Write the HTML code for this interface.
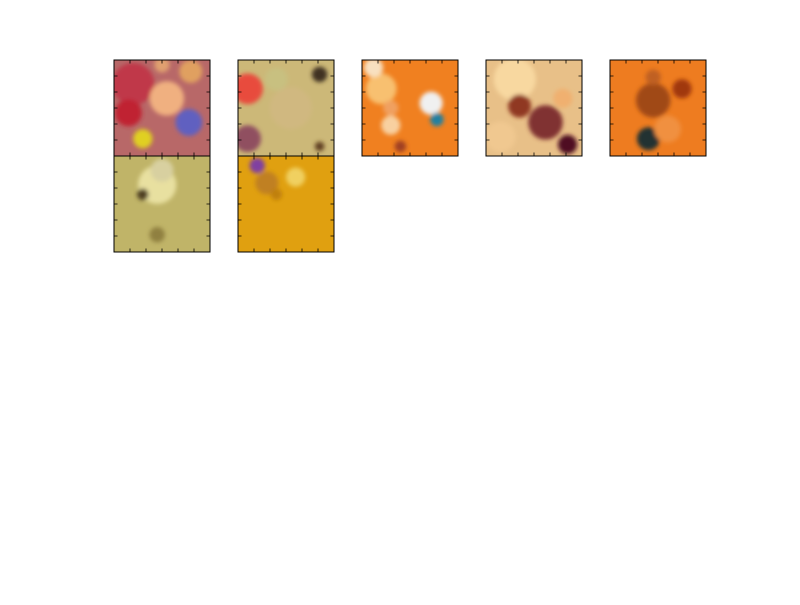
<!DOCTYPE html>
<html><head><meta charset="utf-8"><style>
body{margin:0;background:#fff;width:800px;height:600px;overflow:hidden;font-family:"Liberation Sans",sans-serif}
</style></head><body>
<svg width="800" height="600">
<defs><filter id="bl"><feGaussianBlur stdDeviation="2"/></filter></defs>
<g id="panels"></g>
</svg>
<script>
const panelX=[114,238,362,486,610,114,238];
const panelY=[60,60,60,60,60,156,156];
const bases=['#b86868','#ccb878','#f08020','#e8c088','#ee7c20','#c0b468','#e0a010'];
const blobs=[
 [[20,25,22,'#c03848'],[55,40,18,'#f0b080'],[78,65,14,'#6060c0'],[30,82,10,'#e0d020'],[15,55,14,'#c02030'],[80,12,12,'#e0a060'],[50,5,8,'#e0a070']],
 [[10,30,16,'#e84c3c'],[10,82,14,'#905060'],[85,15,8,'#403020'],[55,50,22,'#d0b880'],[40,20,12,'#c8c080'],[85,90,5,'#604020']],
 [[20,30,16,'#f8c070'],[72,45,12,'#f0f0f0'],[78,62,7,'#2080a0'],[30,68,10,'#f8d0a0'],[12,8,10,'#f8e0c0'],[40,90,6,'#a04020'],[30,50,8,'#f0a060']],
 [[30,20,22,'#f8d8a0'],[62,65,18,'#803030'],[35,48,12,'#903820'],[85,88,10,'#501020'],[15,80,16,'#f0c890'],[80,40,10,'#f0b070']],
 [[45,42,18,'#a04818'],[40,82,12,'#203030'],[75,30,10,'#a03810'],[60,72,14,'#f09040'],[45,18,8,'#c06020']],
 [[45,30,20,'#e8e0a0'],[45,82,8,'#908040'],[50,15,12,'#d8d0a0'],[30,40,6,'#504020']],
 [[20,10,8,'#8040a0'],[30,28,12,'#c08020'],[60,22,10,'#f0d060'],[40,40,6,'#c08010']]
];
const g=document.getElementById('panels');
const NS='http://www.w3.org/2000/svg';
for(let i=0;i<panelX.length;i++){
 const x=panelX[i],y=panelY[i],s=96;
 const grp=document.createElementNS(NS,'g');
 
 
 const cp=document.createElementNS(NS,'clipPath');cp.id='c'+i;
 const cr=document.createElementNS(NS,'rect');cr.setAttribute('x',x);cr.setAttribute('y',y);cr.setAttribute('width',s);cr.setAttribute('height',s);cp.appendChild(cr);grp.appendChild(cp);
 const inner=document.createElementNS(NS,'g');inner.setAttribute('clip-path','url(#c'+i+')');
 const bg=document.createElementNS(NS,'rect');bg.setAttribute('x',x);bg.setAttribute('y',y);bg.setAttribute('width',s);bg.setAttribute('height',s);bg.setAttribute('fill',bases[i]);inner.appendChild(bg);
 const bb=document.createElementNS(NS,'g');bb.setAttribute('filter','url(#bl)');
 for(const b of blobs[i]){const c=document.createElementNS(NS,'circle');c.setAttribute('cx',x+b[0]*s/100);c.setAttribute('cy',y+b[1]*s/100);c.setAttribute('r',b[2]*s/100);c.setAttribute('fill',b[3]);bb.appendChild(c);}
 inner.appendChild(bb);grp.appendChild(inner);
 let t='';
 for(let k=1;k<=5;k++){const p=k*s/6;
  t+=`M${x+p},${y}v3.5M${x+p},${y+s}v-3.5M${x},${y+p}h3.5M${x+s},${y+p}h-3.5`;}
 const tk=document.createElementNS(NS,'path');tk.setAttribute('d',t);tk.setAttribute('stroke','#000');tk.setAttribute('stroke-width','0.8');
 
 
 grp.appendChild(tk);
 const fr=document.createElementNS(NS,'rect');fr.setAttribute('x',x);fr.setAttribute('y',y);fr.setAttribute('width',s);fr.setAttribute('height',s);fr.setAttribute('fill','none');fr.setAttribute('stroke','#000');fr.setAttribute('stroke-width','1');
 
 
 grp.appendChild(fr);
 g.appendChild(grp);
}
</script>
</body></html>
